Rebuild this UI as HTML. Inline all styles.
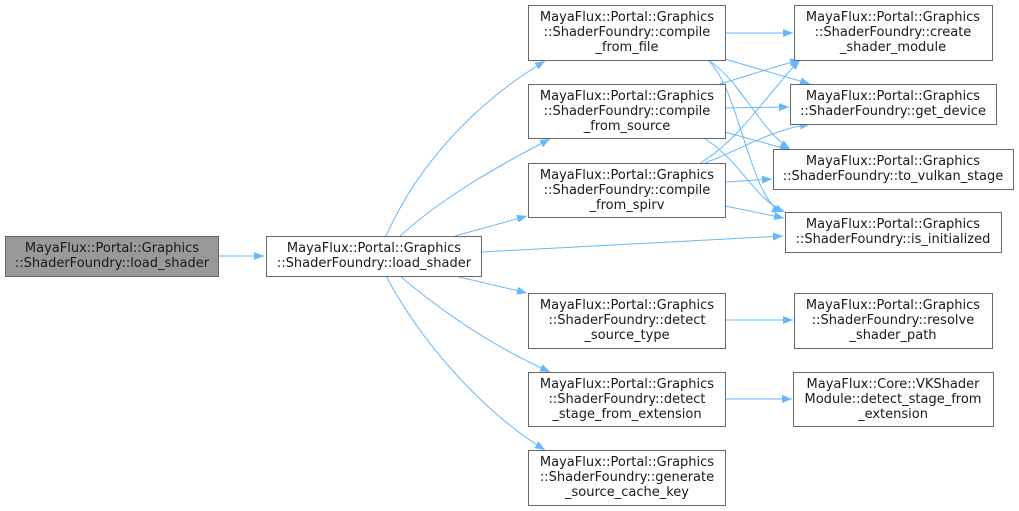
<!DOCTYPE html>
<html><head><meta charset="utf-8"><style>body{margin:0;background:#fff}svg{display:block}</style></head><body>
<svg width="1019" height="511" viewBox="0 0 1019 511" xmlns="http://www.w3.org/2000/svg">
<defs><marker id="a" markerWidth="10" markerHeight="8" refX="10" refY="4" orient="auto" markerUnits="userSpaceOnUse"><path d="M0,0 L10,4 L0,8 z" fill="#63b8ff"/></marker></defs>
<g fill="none" stroke="#63b8ff" stroke-width="1" marker-end="url(#a)">
<path d="M218,256 L264,256"/>
<path d="M386,236 C420,160 480,100 545,61"/>
<path d="M400,236 C440,200 490,170 550,139"/>
<path d="M455,236 L527,216"/>
<path d="M481,252 L783,236"/>
<path d="M455,276 L527,293"/>
<path d="M400,276 C440,310 490,345 550,372"/>
<path d="M386,276 C420,340 480,410 545,450"/>
<path d="M725,33 L793,33"/>
<path d="M725,59 L810,84"/>
<path d="M708,60 C740,80 760,130 790,149"/>
<path d="M708,60 C740,90 750,200 782,212"/>
<path d="M720,84 C750,75 780,65 800,60"/>
<path d="M725,108 L789,107"/>
<path d="M725,132 L790,150"/>
<path d="M705,139 C740,160 755,200 785,212"/>
<path d="M700,163 C740,140 770,90 800,60"/>
<path d="M705,163 C740,150 770,130 810,124"/>
<path d="M725,182 L772,179"/>
<path d="M725,206 L784,218"/>
<path d="M725,320 L793,320"/>
<path d="M725,399 L792,399"/>
</g>
<g stroke="#666" stroke-width="1" fill="#fff">
<rect x="5.5" y="236.5" width="213" height="40" fill="#999"/>
<rect x="266.5" y="236.5" width="215" height="40"/>
<rect x="528.5" y="5.5" width="197" height="55"/>
<rect x="528.5" y="84.5" width="197" height="54"/>
<rect x="528.5" y="163.5" width="197" height="54"/>
<rect x="528.5" y="293.5" width="197" height="55"/>
<rect x="528.5" y="372.5" width="197" height="54"/>
<rect x="528.5" y="450.5" width="197" height="55"/>
<rect x="794.5" y="5.5" width="198" height="55"/>
<rect x="790.5" y="84.5" width="206" height="40"/>
<rect x="773.5" y="149.5" width="240" height="40"/>
<rect x="785.5" y="212.5" width="216" height="40"/>
<rect x="794.5" y="293.5" width="198" height="55"/>
<rect x="793.5" y="372.5" width="200" height="54"/>
</g>
<g font-family="DejaVu Sans, Liberation Sans, sans-serif" font-size="13" fill="#1a1a1a" text-anchor="middle">
<text x="112" y="252">MayaFlux::Portal::Graphics</text><text x="112" y="267">::ShaderFoundry::load_shader</text>
<text x="374" y="252">MayaFlux::Portal::Graphics</text><text x="374" y="267">::ShaderFoundry::load_shader</text>
<text x="627" y="21">MayaFlux::Portal::Graphics</text><text x="627" y="36">::ShaderFoundry::compile</text><text x="627" y="51">_from_file</text>
<text x="627" y="100">MayaFlux::Portal::Graphics</text><text x="627" y="115">::ShaderFoundry::compile</text><text x="627" y="130">_from_source</text>
<text x="627" y="179">MayaFlux::Portal::Graphics</text><text x="627" y="194">::ShaderFoundry::compile</text><text x="627" y="209">_from_spirv</text>
<text x="627" y="309">MayaFlux::Portal::Graphics</text><text x="627" y="324">::ShaderFoundry::detect</text><text x="627" y="339">_source_type</text>
<text x="627" y="388">MayaFlux::Portal::Graphics</text><text x="627" y="403">::ShaderFoundry::detect</text><text x="627" y="418">_stage_from_extension</text>
<text x="627" y="466">MayaFlux::Portal::Graphics</text><text x="627" y="481">::ShaderFoundry::generate</text><text x="627" y="496">_source_cache_key</text>
<text x="893" y="21">MayaFlux::Portal::Graphics</text><text x="893" y="36">::ShaderFoundry::create</text><text x="893" y="51">_shader_module</text>
<text x="893" y="100">MayaFlux::Portal::Graphics</text><text x="893" y="115">::ShaderFoundry::get_device</text>
<text x="893" y="165">MayaFlux::Portal::Graphics</text><text x="893" y="180">::ShaderFoundry::to_vulkan_stage</text>
<text x="893" y="228">MayaFlux::Portal::Graphics</text><text x="893" y="243">::ShaderFoundry::is_initialized</text>
<text x="893" y="309">MayaFlux::Portal::Graphics</text><text x="893" y="324">::ShaderFoundry::resolve</text><text x="893" y="339">_shader_path</text>
<text x="893" y="388">MayaFlux::Core::VKShader</text><text x="893" y="403">Module::detect_stage_from</text><text x="893" y="418">_extension</text>
</g>
</svg>
</body></html>
